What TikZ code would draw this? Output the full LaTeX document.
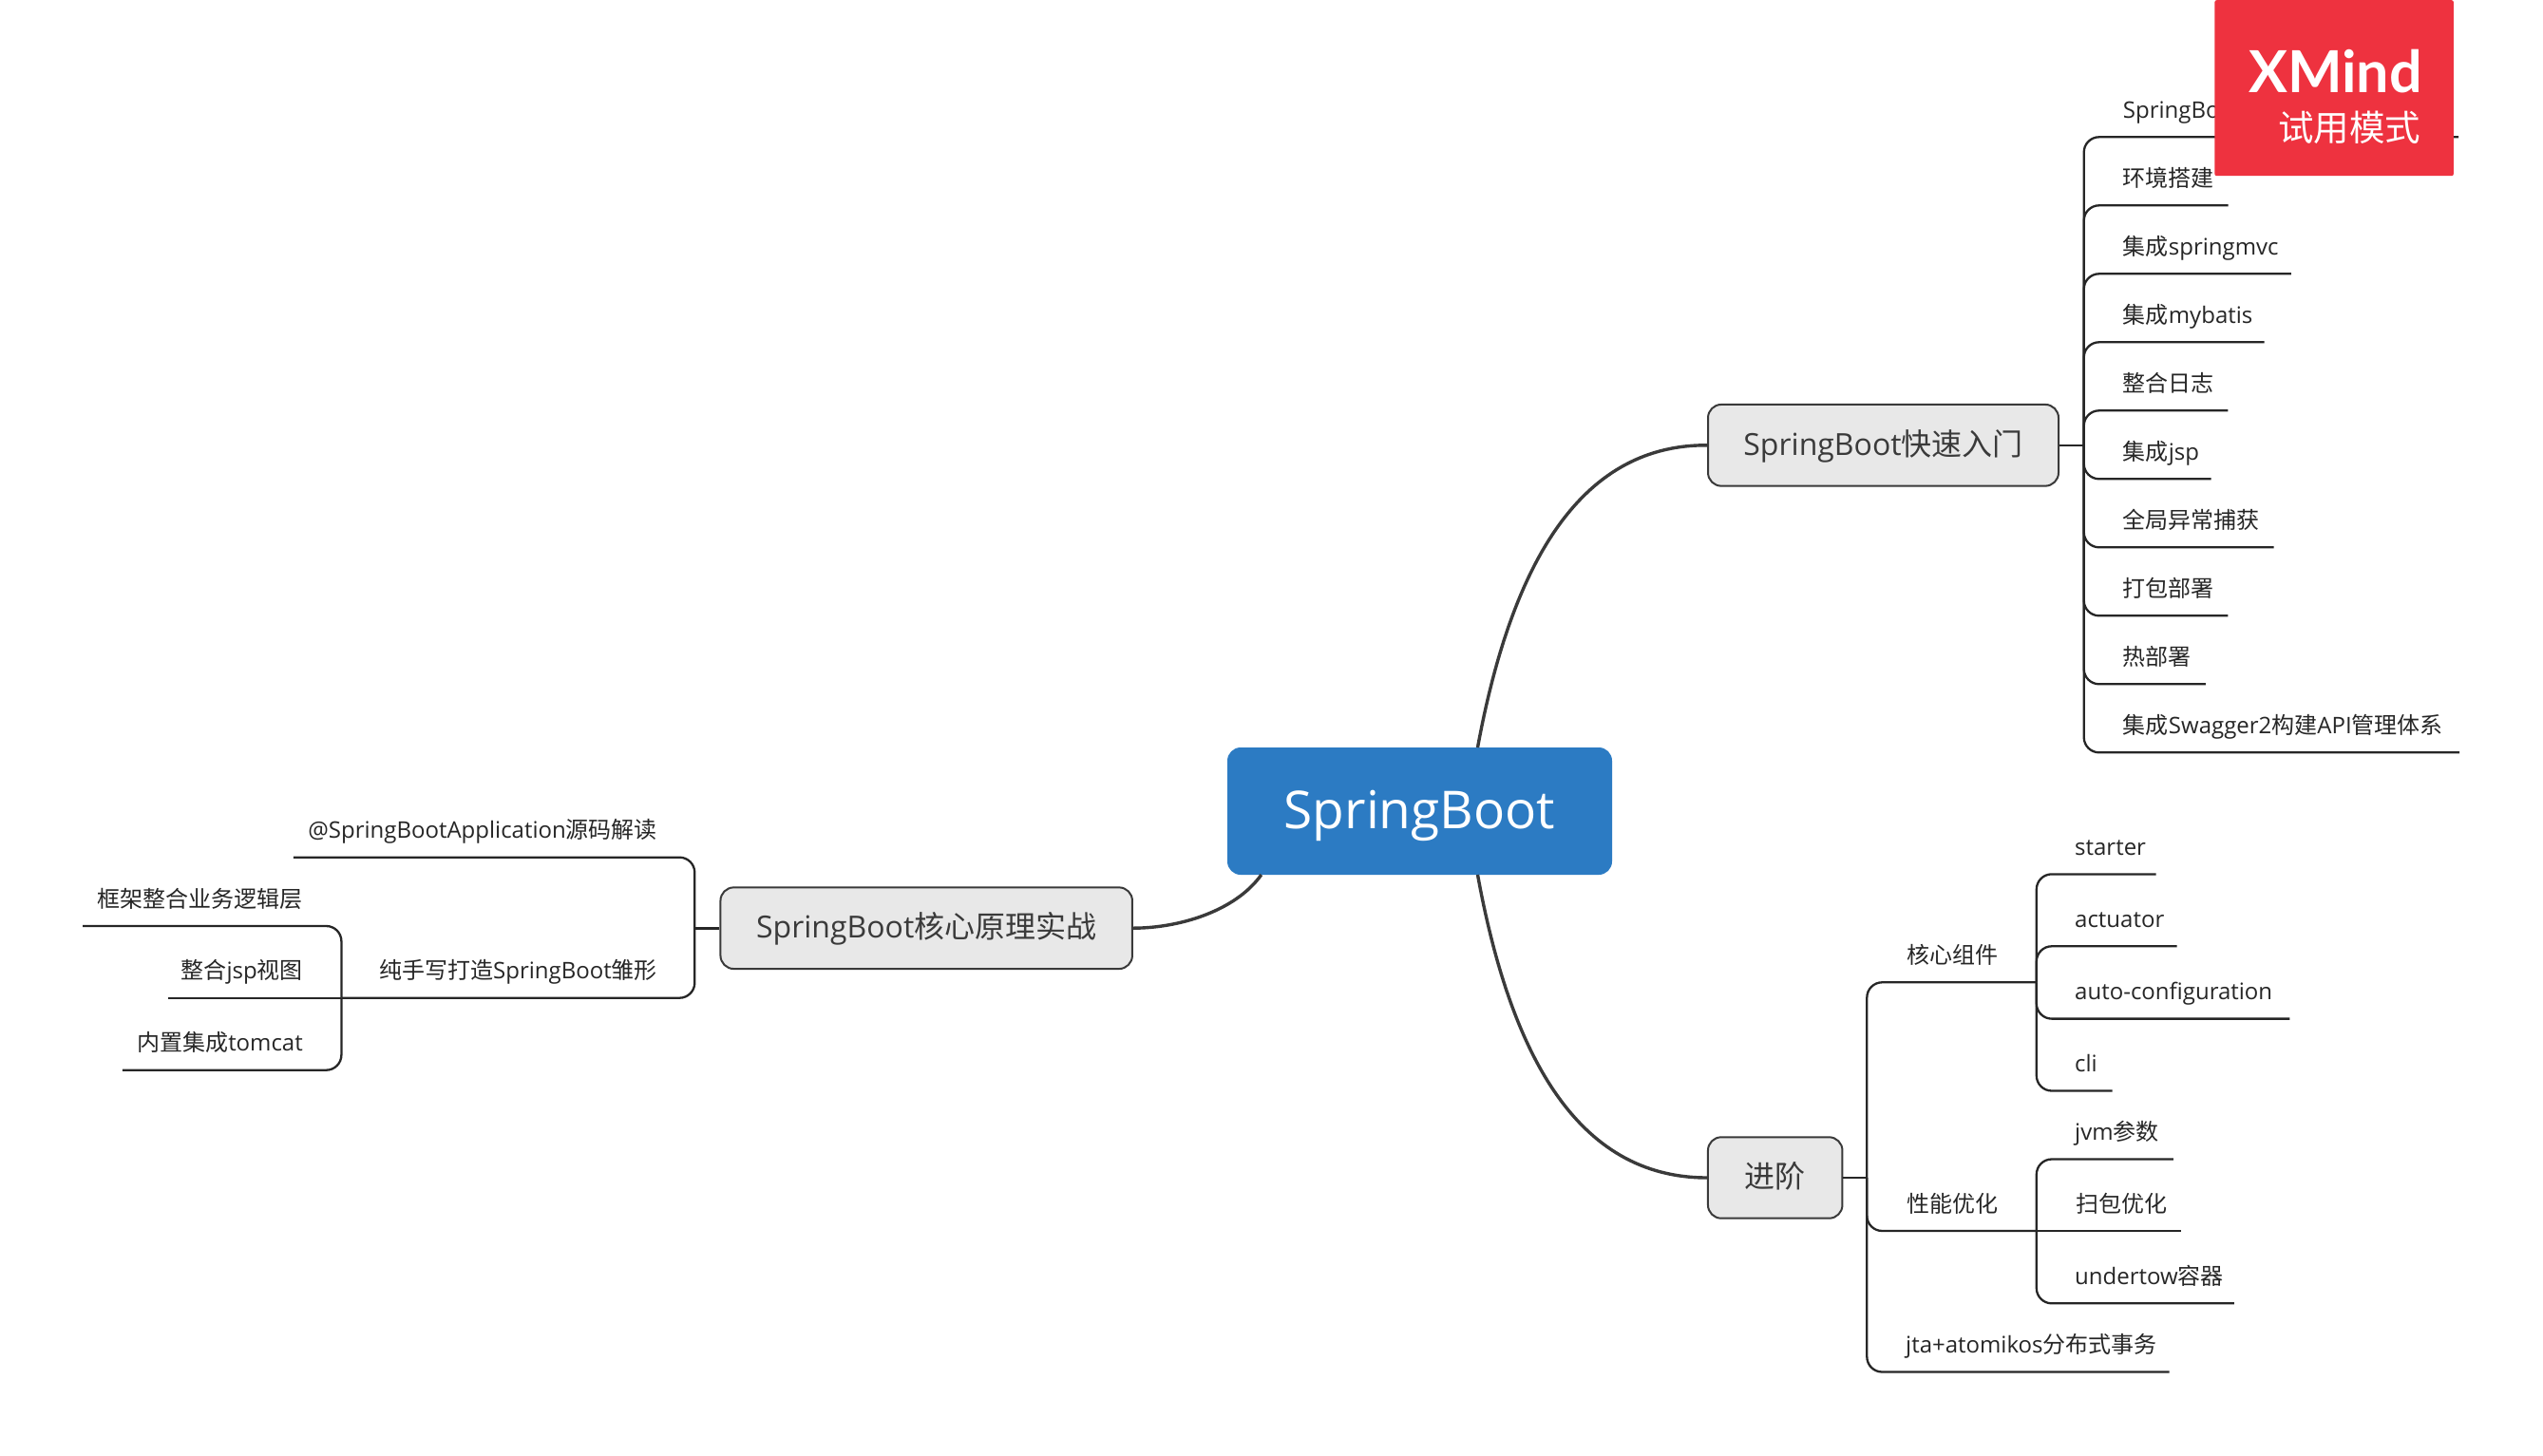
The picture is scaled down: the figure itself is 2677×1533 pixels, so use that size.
\documentclass[tikz,border=0pt]{standalone}
\usepackage{fontspec}
\setmainfont{Open Sans}
\newfontfamily\cjkf{Noto Sans CJK SC}
\newfontfamily\badgef{Lato}
\newcommand{\zh}[1]{{\cjkf #1}}
\definecolor{inkc}{HTML}{262626}
\definecolor{topicfill}{HTML}{E8E8E8}
\definecolor{topicline}{HTML}{3A3A3A}
\definecolor{rootfill}{HTML}{2C7BC3}
\definecolor{badgered}{HTML}{EE323F}
\tikzset{
  conn/.style={draw=inkc,line width=2.3pt,rounded corners=16pt},
  mainconn/.style={draw=topicline,line width=3.4pt},
  stub/.style={draw=inkc,line width=2.6pt},
  leaf/.style={inner sep=0pt,text=inkc,font=\fontsize{24}{28}\selectfont},
  topic/.style={draw=topicline,line width=2pt,fill=topicfill,rounded corners=14pt,inner sep=0pt,text=topicline,text height=27pt,text depth=6pt,font=\fontsize{32}{36}\selectfont},
  rootbox/.style={fill=rootfill,rounded corners=14pt,inner sep=0pt,text=white,minimum width=405pt,minimum height=134pt,text height=45pt,text depth=7.6pt,font=\fontsize{55}{62}\selectfont},
}
% name, x of text, x of line end, y of line, text
\newcommand{\rleaf}[5]{\node[leaf,anchor=base west] (#1) at (#2,#4-20) {#5};\coordinate (#1-e) at (#3,#4);}
\newcommand{\lleaf}[5]{\node[leaf,anchor=base east] (#1) at (#2,#4-20) {#5};\coordinate (#1-e) at (#3,#4);}
\begin{document}
\begin{tikzpicture}[x=1pt,y=-1pt]
\useasboundingbox (0,0) rectangle (2677,1533);
% nodes
\node[rootbox,anchor=center] (root) at (1494.5,854) {SpringBoot};
\node[topic,minimum width=369pt,minimum height=85.7pt] (a) at (1982.5,468.8) {SpringBoot\zh{快速入门}};
\node[topic,minimum width=141.5pt,minimum height=85.4pt] (b) at (1868.7,1240) {\zh{进阶}};
\node[topic,minimum width=433.5pt,minimum height=85.7pt] (c) at (975.2,977.2) {SpringBoot\zh{核心原理实战}};
\coordinate (rt) at (1555.5,787);
\coordinate (rb) at (1555.5,921);
\coordinate (rl) at (1327.8,921);
\draw[mainconn] (rt) .. controls (1590,600) and (1660,468) .. (a.west);
\draw[mainconn] (rb) .. controls (1590,1110) and (1660,1240) .. (b.west);
\draw[mainconn] (rl) .. controls (1300,960) and (1240,977.2) .. (c.east);
% right upper
\coordinate (hubA) at (2193.7,468.8);
\draw[stub] (a.east) -- (hubA);
\rleaf{a1}{2234.7}{2588}{144.3}{SpringBoot}
\rleaf{a2}{2234.7}{2345.6}{216.3}{\zh{环境搭建}}
\rleaf{a3}{2234.7}{2411.8}{288.3}{\zh{集成}springmvc}
\rleaf{a4}{2234.7}{2383.6}{360.3}{\zh{集成}mybatis}
\rleaf{a5}{2234.7}{2345.3}{432.3}{\zh{整合日志}}
\rleaf{a6}{2234.7}{2327.5}{504.3}{\zh{集成}jsp}
\rleaf{a7}{2234.7}{2393.5}{576.3}{\zh{全局异常捕获}}
\rleaf{a8}{2234.7}{2345.3}{648.3}{\zh{打包部署}}
\rleaf{a9}{2234.7}{2321.8}{720.3}{\zh{热部署}}
\rleaf{a10}{2234.7}{2589}{792.3}{\zh{集成}Swagger2\zh{构建}API\zh{管理体系}}
\foreach \n in {a1,a2,a3,a4,a5,a6,a7,a8,a9,a10}{\draw[conn] (hubA) |- (\n-e);}
% right lower
\coordinate (hubB) at (1965.3,1240);
\draw[stub] (b.east) -- (hubB);
\rleaf{b1}{2007}{2143.8}{1034.3}{\zh{核心组件}}
\rleaf{b2}{2007}{2143.8}{1296}{\zh{性能优化}}
\rleaf{b3}{2006}{2283.5}{1444.5}{jta+atomikos\zh{分布式事务}}
\foreach \n in {b1,b2,b3}{\draw[conn] (hubB) |- (\n-e);}
\coordinate (hubB1) at (2143.8,1034.3);
\coordinate (hubB2) at (2143.8,1296);
\rleaf{p1}{2184}{2269.6}{920.4}{starter}
\rleaf{p2}{2184}{2291.6}{996.3}{actuator}
\rleaf{p3}{2184}{2410.3}{1072.6}{auto-configuration}
\rleaf{p4}{2184}{2223.7}{1148.5}{cli}
\foreach \n in {p1,p2,p3,p4}{\draw[conn] (hubB1) |- (\n-e);}
\rleaf{q1}{2184}{2287.8}{1220.5}{jvm\zh{参数}}
\rleaf{q2}{2185.4}{2296}{1296}{\zh{扫包优化}}
\rleaf{q3}{2184}{2351.9}{1372.3}{undertow\zh{容器}}
\foreach \n in {q1,q3}{\draw[conn] (hubB2) |- (\n-e);}
\draw[conn] (hubB2) -- (q2-e);
% left
\coordinate (hubC) at (731.3,977.2);
\draw[stub] (c.west) -- (hubC);
\lleaf{c1}{692}{308.9}{902.7}{@SpringBootApplication\zh{源码解读}}
\lleaf{c2}{692}{359.4}{1050.7}{\zh{纯手写打造}SpringBoot\zh{雏形}}
\foreach \n in {c1,c2}{\draw[conn] (hubC) |- (\n-e);}
\coordinate (hubC2) at (359.4,1050.7);
\lleaf{d1}{319}{87}{975}{\zh{框架整合业务逻辑层}}
\lleaf{d2}{319}{177}{1050.7}{\zh{整合}jsp\zh{视图}}
\lleaf{d3}{319}{128.9}{1126.7}{\zh{内置集成}tomcat}
\foreach \n in {d1,d3}{\draw[conn] (hubC2) |- (\n-e);}
\draw[conn] (hubC2) -- (d2-e);
% trial badge
\node[fill=badgered,rounded corners=2pt,minimum width=251.4pt,minimum height=185pt,inner sep=0pt,anchor=north west] (badge) at (2331.2,0) {};
\node[inner sep=0pt,anchor=base east,text=white,font=\badgef\bfseries\fontsize{61}{64}\selectfont] (badgeA) at (2550,98) {XMind};
\node[inner sep=0pt,anchor=base east,text=white,font=\cjkf\fontsize{37.5}{40}\selectfont] (badgeB) at (2548.3,148.5) {试用模式};
\end{tikzpicture}
\end{document}
